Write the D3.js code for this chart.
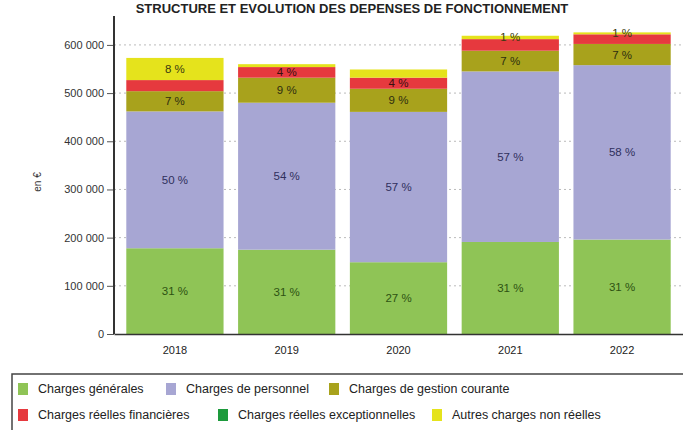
<!DOCTYPE html>
<html>
<head>
<meta charset="utf-8">
<script src="https://cdn.jsdelivr.net/npm/d3@7"></script>
<style>
  html, body { margin: 0; padding: 0; background: #fff; }
  svg { display: block; font-family: "Liberation Sans", Arial, sans-serif; }
</style>
</head>
<body>
<div id="chart"></div>
<script>
// Structure et évolution des dépenses de fonctionnement — stacked bars per year

const years = ["2018", "2019", "2020", "2021", "2022"];

const chargesGenerales = [178000, 175000, 149000, 191000, 196000];
const chargesPersonnel = [284000, 305000, 312000, 354000, 362000];
const chargesGestion = [42000, 52000, 48000, 43000, 44000];
const chargesFinancieres = [23000, 22000, 23000, 24000, 20000];
const chargesExceptionnelles = [0, 0, 0, 0, 0];
const autresCharges = [46000, 6000, 17000, 7000, 4000];

const pctGenerales = ["31 %", "31 %", "27 %", "31 %", "31 %"];
const pctPersonnel = ["50 %", "54 %", "57 %", "57 %", "58 %"];
const pctGestion = ["7 %", "9 %", "9 %", "7 %", "7 %"];
const pctFinancieres = ["", "4 %", "4 %", "", ""];
const pctExceptionnelles = ["", "", "", "", ""];
const pctAutres = ["8 %", "", "", "1 %", "1 %"];

const yTicks = [0, 100000, 200000, 300000, 400000, 500000, 600000];

const series = [
  { name: "Charges générales", values: chargesGenerales, labels: pctGenerales, color: "#8fc456", text: "#2d5212" },
  { name: "Charges de personnel", values: chargesPersonnel, labels: pctPersonnel, color: "#a7a6d3", text: "#2f2f5c" },
  { name: "Charges de gestion courante", values: chargesGestion, labels: pctGestion, color: "#a8a21c", text: "#2e2e10" },
  { name: "Charges réelles financières", values: chargesFinancieres, labels: pctFinancieres, color: "#e6393e", text: "#3a1010" },
  { name: "Charges réelles exceptionnelles", values: chargesExceptionnelles, labels: pctExceptionnelles, color: "#1d9a3c", text: "#102a10" },
  { name: "Autres charges non réelles", values: autresCharges, labels: pctAutres, color: "#e5e31c", text: "#3a3a10" }
];

const width = 683, height = 430;
const svg = d3.select("#chart").append("svg")
  .attr("width", width).attr("height", height);

const x = d3.scaleBand().domain(years).range([114, 683]).paddingInner(0.13).paddingOuter(0.11);
const y = d3.scaleLinear().domain([0, 660000]).range([334, 16]);
const fmt = v => d3.format(",")(v).replace(/,/g, " ");

// Title
svg.append("text")
  .attr("x", 352).attr("y", 13)
  .attr("text-anchor", "middle")
  .attr("font-size", 13).attr("font-weight", "bold").attr("fill", "#222")
  .text("STRUCTURE ET EVOLUTION DES DEPENSES DE FONCTIONNEMENT");

// Gridlines
svg.append("g").selectAll("line").data(yTicks.filter(d => d > 0)).join("line")
  .attr("x1", 114).attr("x2", 683)
  .attr("y1", d => y(d)).attr("y2", d => y(d))
  .attr("stroke", "#bbb").attr("stroke-width", 1).attr("stroke-dasharray", "2,3");

// Stacked bars
years.forEach((yr, i) => {
  let acc = 0;
  const g = svg.append("g");
  series.forEach(s => {
    const v = s.values[i];
    const y0 = acc, y1 = acc + v;
    acc = y1;
    if (v > 0) {
      g.append("rect")
        .attr("x", x(yr)).attr("width", x.bandwidth())
        .attr("y", y(y1)).attr("height", y(y0) - y(y1))
        .attr("fill", s.color);
    }
    if (s.labels[i]) {
      g.append("text")
        .attr("x", x(yr) + x.bandwidth() / 2)
        .attr("y", (y(y0) + y(y1)) / 2 + 4)
        .attr("text-anchor", "middle")
        .attr("font-size", 11.5).attr("fill", s.text)
        .text(s.labels[i]);
    }
  });
});

// Y axis
const gY = svg.append("g").attr("transform", "translate(114,0)")
  .call(d3.axisLeft(y).tickValues(yTicks).tickSize(7).tickPadding(3).tickFormat(fmt));
gY.select(".domain").remove();
gY.selectAll(".tick line").attr("stroke", "#555");
gY.selectAll(".tick text").attr("font-size", 11).attr("fill", "#333")
  .attr("font-family", "'Liberation Sans', Arial, sans-serif");
svg.append("line").attr("x1", 114).attr("x2", 114).attr("y1", y(660000)).attr("y2", y(0))
  .attr("stroke", "#333").attr("stroke-width", 2);

// X axis
const gX = svg.append("g").attr("transform", `translate(0,${y(0)})`)
  .call(d3.axisBottom(x).tickSize(0).tickPadding(12));
gX.select(".domain").attr("stroke", "#333").attr("stroke-width", 1.5);
gX.selectAll(".tick text").attr("font-size", 11).attr("fill", "#222")
  .attr("font-family", "'Liberation Sans', Arial, sans-serif");

svg.append("text")
  .attr("transform", "translate(41,182) rotate(-90)")
  .attr("text-anchor", "middle").attr("font-size", 10).attr("fill", "#333")
  .text("en €");

// Legend
svg.append("rect").attr("x", 12).attr("y", 374).attr("width", 700).attr("height", 70)
  .attr("fill", "none").attr("stroke", "#444").attr("stroke-width", 1.5);

const legendPos = [
  [18, 389], [166, 389], [329, 389],
  [18, 415], [218, 415], [432, 415]
];
const lg = svg.append("g").selectAll("g").data(series).join("g")
  .attr("transform", (d, i) => `translate(${legendPos[i][0]},${legendPos[i][1]})`);
lg.append("rect").attr("x", 0).attr("y", -6).attr("width", 10).attr("height", 12)
  .attr("fill", d => d.color);
lg.append("text").attr("x", 20).attr("y", 4)
  .attr("font-size", 12.5).attr("fill", "#222")
  .text(d => d.name);
</script>
</body>
</html>
